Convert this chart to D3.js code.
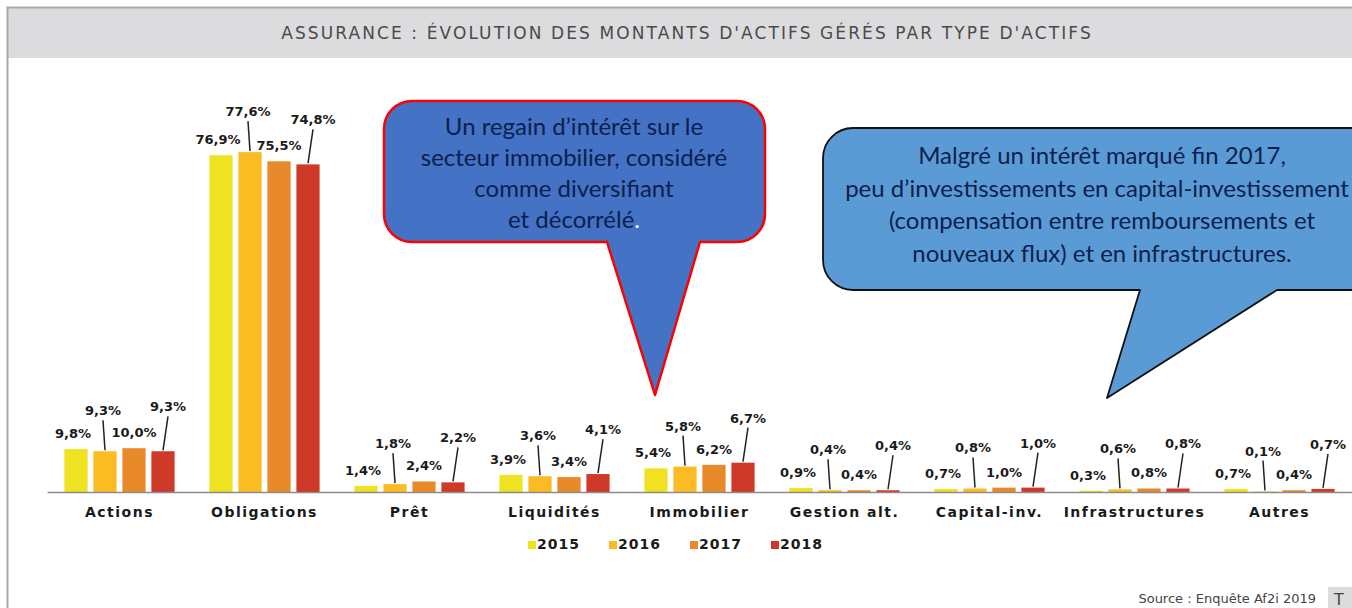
<!DOCTYPE html>
<html>
<head>
<meta charset="utf-8">
<script src="https://cdn.jsdelivr.net/npm/d3@7"></script>
<style>
  body { margin: 0; background: white; overflow: hidden; }
</style>
</head>
<body>
<script>
const categories = ['Actions', 'Obligations', 'Prêt', 'Liquidités', 'Immobilier', 'Gestion alt.', 'Capital-inv.', 'Infrastructures', 'Autres'];
const years = ['2015', '2016', '2017', '2018'];
const values2015 = [9.8, 76.9, 1.4, 3.9, 5.4, 0.9, 0.7, 0.3, 0.7];
const values2016 = [9.3, 77.6, 1.8, 3.6, 5.8, 0.4, 0.8, 0.6, 0.1];
const values2017 = [10.0, 75.5, 2.4, 3.4, 6.2, 0.4, 1.0, 0.8, 0.4];
const values2018 = [9.3, 74.8, 2.2, 4.1, 6.7, 0.4, 1.0, 0.8, 0.7];
const colors = ['#eee221', '#fbbb22', '#e8892a', '#cf3a28'];

const title = "ASSURANCE : ÉVOLUTION DES MONTANTS D'ACTIFS GÉRÉS PAR TYPE D'ACTIFS";
const note1 = ['Un regain d\u2019intérêt sur le', 'secteur immobilier, considéré', 'comme diversifiant', 'et décorrélé'];
const note2 = ['Malgré un intérêt marqué fin 2017,', 'peu d\u2019investissements en capital-investissement', '(compensation entre remboursements et', 'nouveaux flux) et en infrastructures.'];
const source = 'Source : Enquête Af2i 2019';

const width = 1352;
const height = 608;
const baseline = 492;

const series = [values2015, values2016, values2017, values2018];
const table = [];
categories.forEach((c, i) => {
  years.forEach((y, j) => table.push({cat: c, year: y, s: j, value: series[j][i]}));
});

const fmt = d3.formatLocale({decimal: ',', thousands: ' ', grouping: [3], currency: ['', '€']}).format('.1f');

const svg = d3.select('body')
  .append('svg')
  .attr('width', width)
  .attr('height', height)
  .style('font-family', 'DejaVu Sans, sans-serif');

// frame + title band
svg.append('rect')
  .attr('x', 7).attr('y', 7)
  .attr('width', width).attr('height', 51)
  .attr('fill', '#dcdcde');
svg.append('path')
  .attr('d', `M7.5,${height}V7.5H${width}`)
  .attr('fill', 'none')
  .attr('stroke', '#a9a9ab')
  .attr('stroke-width', 2);

svg.append('text')
  .text(title)
  .attr('x', 687).attr('y', 39)
  .attr('text-anchor', 'middle')
  .style('font-size', '17px')
  .style('letter-spacing', '2.1px')
  .attr('fill', '#4a4a4a');

const x0 = d3.scaleBand()
  .domain(categories)
  .range([47, 1352])
  .paddingInner(0.24)
  .paddingOuter(0.12);

const x1 = d3.scaleBand()
  .domain(years)
  .range([0, x0.bandwidth()])
  .paddingInner(0.2);

const yScale = d3.scaleLinear()
  .domain([0, 80])
  .range([baseline, baseline - 80 * 4.38]);

const barCx = d => x0(d.cat) + x1(d.year) + x1.bandwidth() / 2;

// callouts
function bubble(x, y, w, h, r, xa, tipX, tipY, xb) {
  const p = d3.path();
  p.moveTo(x + r, y);
  p.arcTo(x + w, y, x + w, y + h, r);
  p.arcTo(x + w, y + h, x, y + h, r);
  p.lineTo(xb, y + h);
  p.lineTo(tipX, tipY);
  p.lineTo(xa, y + h);
  p.arcTo(x, y + h, x, y, r);
  p.arcTo(x, y, x + w, y, r);
  p.closePath();
  return p.toString();
}

svg.append('path')
  .attr('d', bubble(384, 101, 381, 141, 28, 607, 655, 395, 700))
  .attr('fill', '#4472c4')
  .attr('stroke', '#ff0000')
  .attr('stroke-width', 2.5)
  .attr('stroke-linejoin', 'round');

const t1 = svg.append('g')
  .style('font-family', 'Lato, sans-serif')
  .style('font-size', '24px')
  .attr('fill', '#0c1f4f')
  .attr('text-anchor', 'middle');
note1.forEach((line, i) => {
  const t = t1.append('text')
    .attr('x', 574)
    .attr('y', 135 + i * 31)
    .text(line);
  if (i === note1.length - 1) t.append('tspan').attr('fill', 'white').text('.');
});

svg.append('path')
  .attr('d', bubble(823, 128, 580, 162, 30, 1140, 1107, 398, 1277))
  .attr('fill', '#5b9bd5')
  .attr('stroke', '#111')
  .attr('stroke-width', 1.8)
  .attr('stroke-linejoin', 'round');

const t2 = svg.append('g')
  .style('font-family', 'Lato, sans-serif')
  .style('font-size', '24px')
  .attr('fill', '#0c1f4f')
  .attr('text-anchor', 'middle');
note2.forEach((line, i) => {
  t2.append('text')
    .attr('x', i === 1 ? 1097 : 1102)
    .attr('y', 164 + i * 32.5)
    .text(line);
});

// bars
svg.selectAll('.bar')
  .data(table)
  .enter()
  .append('rect')
  .attr('class', 'bar')
  .attr('x', d => x0(d.cat) + x1(d.year))
  .attr('y', d => yScale(d.value))
  .attr('width', x1.bandwidth())
  .attr('height', d => baseline - yScale(d.value))
  .attr('fill', d => colors[d.s]);

// axis
const xAxis = d3.axisBottom(x0)
  .tickSize(0)
  .tickSizeOuter(0)
  .tickPadding(15);

const axisG = svg.append('g')
  .attr('transform', `translate(0,${baseline})`)
  .call(xAxis);
axisG.select('.domain')
  .attr('stroke', '#8c8c8c')
  .attr('stroke-width', 1.5);
axisG.selectAll('text')
  .style('font-family', 'DejaVu Sans, sans-serif')
  .style('font-size', '14px')
  .style('font-weight', 'bold')
  .style('letter-spacing', '1.5px')
  .attr('fill', '#1a1a1a');

// labels: 2015/2017 sit on the bar, 2016/2018 are lifted with a leader line
const lift = [11, 36, 11, 40];
const shift = [-3, -2, 0, 5];
const labelY = d => yScale(d.value) - lift[d.s];
const labelX = d => barCx(d) + shift[d.s];

svg.selectAll('.leader')
  .data(table.filter(d => d.s === 1 || d.s === 3))
  .enter()
  .append('line')
  .attr('class', 'leader')
  .attr('x1', d => labelX(d))
  .attr('y1', d => labelY(d) + 5)
  .attr('x2', d => barCx(d))
  .attr('y2', d => yScale(d.value) - 1)
  .attr('stroke', '#222')
  .attr('stroke-width', 1.5);

svg.selectAll('.value-label')
  .data(table)
  .enter()
  .append('text')
  .attr('class', 'value-label')
  .attr('x', d => labelX(d))
  .attr('y', d => labelY(d))
  .attr('text-anchor', 'middle')
  .style('font-size', '13px')
  .style('font-weight', 'bold')
  .attr('fill', '#1a1a1a')
  .text(d => fmt(d.value) + '%');

// legend
const legend = svg.selectAll('.legend')
  .data(years)
  .enter()
  .append('g')
  .attr('class', 'legend')
  .attr('transform', (d, i) => `translate(${528 + i * 81},549)`);
legend.append('rect')
  .attr('x', 0).attr('y', -8)
  .attr('width', 8).attr('height', 8)
  .attr('fill', (d, i) => colors[i]);
legend.append('text')
  .attr('x', 9)
  .text(d => d)
  .style('font-size', '14px')
  .style('font-weight', 'bold')
  .style('letter-spacing', '1px')
  .attr('fill', '#1a1a1a');

svg.append('text')
  .text(source)
  .attr('x', 1316).attr('y', 603)
  .attr('text-anchor', 'end')
  .style('font-size', '13px')
  .attr('fill', '#444');
svg.append('rect')
  .attr('x', 1328).attr('y', 587)
  .attr('width', 30).attr('height', 25)
  .attr('fill', '#dcdcdc');
svg.append('text')
  .text('T')
  .attr('x', 1334).attr('y', 605)
  .style('font-size', '16px')
  .attr('fill', '#444');
</script>
</body>
</html>
